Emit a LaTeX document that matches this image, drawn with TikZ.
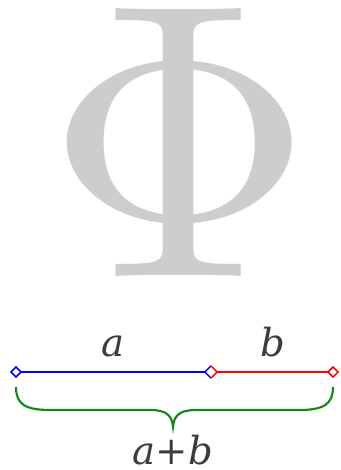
\documentclass[tikz,border=0pt]{standalone}
\usepackage{fontspec}
\usepackage{xcolor}
\usepackage{graphicx}
\usetikzlibrary{shapes.geometric}
\setmainfont{DejaVu Serif}
\definecolor{phigray}{RGB}{205,205,205}
\definecolor{txtgray}{RGB}{60,60,60}
\definecolor{bracegreen}{RGB}{20,135,20}

\begin{document}
\begin{tikzpicture}[x=0.75pt,y=-0.75pt,
  endmark/.style={diamond,fill=white,line width=1.1pt,inner sep=0pt,minimum size=8pt},
  seglabel/.style={text=txtgray,font=\fontsize{29}{32}\selectfont\itshape,inner sep=0pt}]
  \useasboundingbox (0,0) rectangle (341,470);
  % the big letter
  \node[text=phigray,inner sep=0pt] (phi) at (180,142)
    {\resizebox{200pt}{201pt}{$\Phi$}};
  % segment a and b
  \coordinate (pA) at (16,372);
  \coordinate (pM) at (211,372);
  \coordinate (pB) at (333,372);
  \draw[blue,line width=1.5pt] (pA) -- (pM);
  \draw[red,line width=1.5pt] (pM) -- (pB);
  \node[endmark,draw=blue] (mA) at (pA) {};
  \node[endmark,draw=red] (mB) at (pB) {};
  \node[endmark] (mM) at (pM) {};
  \draw[blue,line width=1.1pt] (mM.north) -- (mM.west) -- (mM.south);
  \draw[red,line width=1.1pt] (mM.north) -- (mM.east) -- (mM.south);
  \node[seglabel,anchor=base] (la) at (113,356) {a};
  \node[seglabel,anchor=base] (lb) at (273,356) {b};
  % brace under the whole
  \draw[bracegreen,line width=1.6pt]
    (16,387) .. controls (16,404) and (25,410) .. (50,410) -- (150,410)
    .. controls (166,410) and (172,415) .. (173,427)
    .. controls (174,415) and (180,410) .. (196,410) -- (299,410)
    .. controls (324,410) and (333,404) .. (333,387);
  \node[seglabel,anchor=base] (lab) at (173,464) {a+b};
\end{tikzpicture}
\end{document}
